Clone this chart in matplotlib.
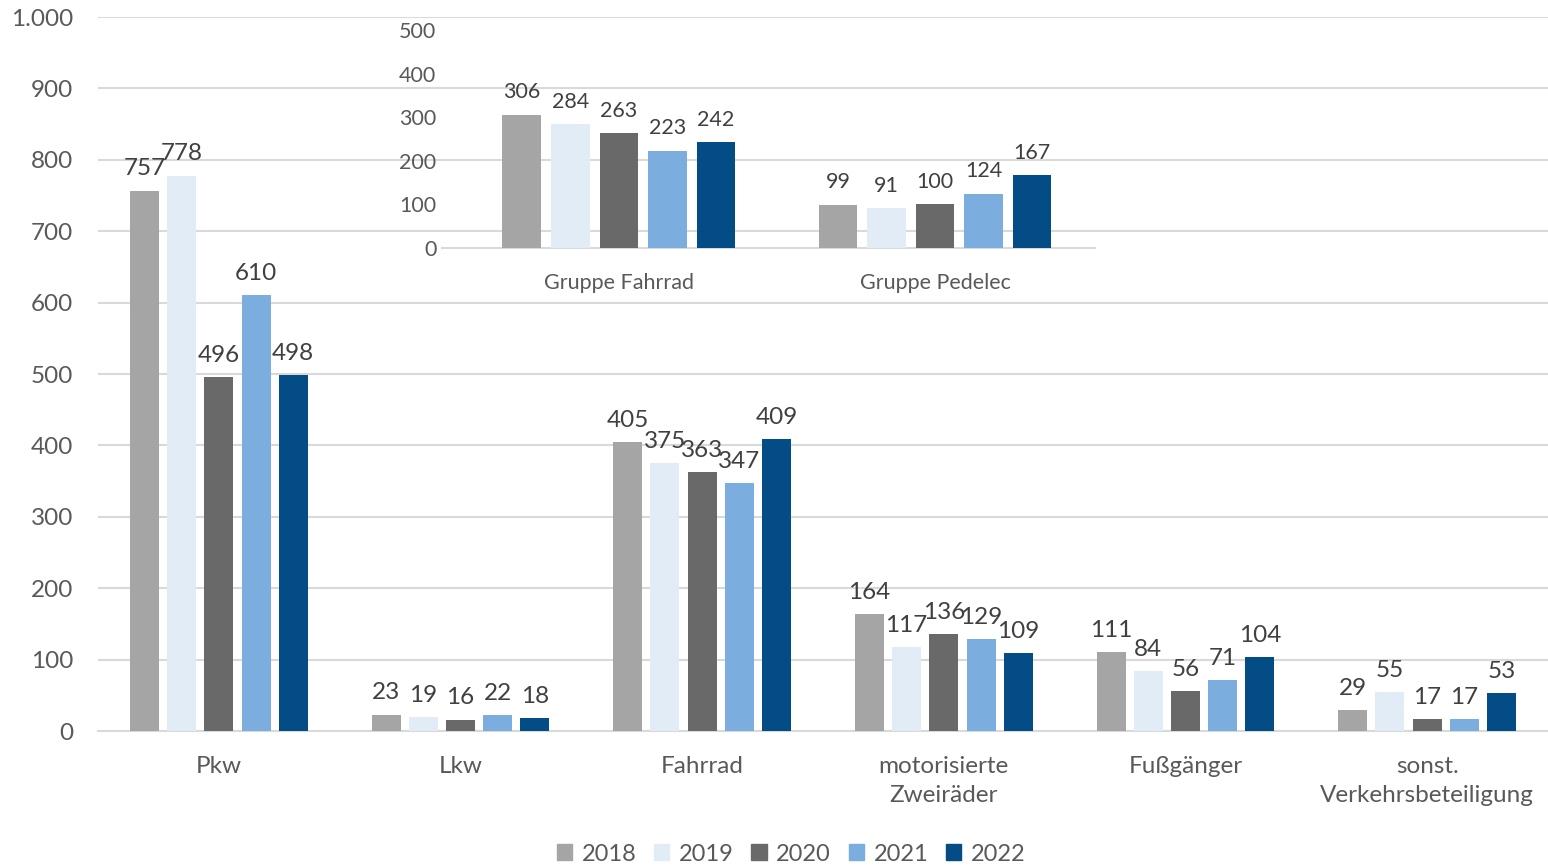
import numpy as np
import matplotlib.pyplot as plt
from matplotlib.ticker import FuncFormatter
from matplotlib.patches import Patch

plt.rcParams['font.family'] = ['Lato', 'DejaVu Sans']

years = ['2018', '2019', '2020', '2021', '2022']
colors = ['#A5A5A5', '#E2ECF7', '#696969', '#7BADDE', '#034C86']

categories = ['Pkw', 'Lkw', 'Fahrrad', 'motorisierte\nZweiräder', 'Fußgänger',
              'sonst.\nVerkehrsbeteiligung']
values = [
    [757, 23, 405, 164, 111, 29],   # 2018
    [778, 19, 375, 117, 84, 55],    # 2019
    [496, 16, 363, 136, 56, 17],    # 2020
    [610, 22, 347, 129, 71, 17],    # 2021
    [498, 18, 409, 109, 104, 53],   # 2022
]

inset_categories = ['Gruppe Fahrrad', 'Gruppe Pedelec']
inset_values = [
    [306, 99],
    [284, 91],
    [263, 100],
    [223, 124],
    [242, 167],
]

TXT = '#404040'
TICK = '#595959'
GRID = '#D9D9D9'

fig = plt.figure(figsize=(15.48, 8.65), dpi=100)
ax = fig.add_axes([0.0633, 0.1549, 0.9367, 0.8254])

x = np.arange(len(categories))
step, width = 0.154, 0.12
for i, (yr, vals) in enumerate(zip(years, values)):
    pos = x + (i - 2) * step
    bars = ax.bar(pos, vals, width, color=colors[i], zorder=3)
    ax.bar_label(bars, labels=[str(v) for v in vals], padding=8,
                 fontsize=17.5, color=TXT)

ax.set_xlim(-0.5, len(categories) - 0.5)
ax.set_ylim(0, 1000)
ax.set_yticks(np.arange(0, 1001, 100))
ax.yaxis.set_major_formatter(FuncFormatter(lambda v, p: f'{int(v):,}'.replace(',', '.')))
ax.grid(axis='y', color=GRID, linewidth=1.5, zorder=0)
for s in ['top', 'right', 'left']:
    ax.spines[s].set_visible(False)
ax.spines['bottom'].set_color(GRID)
ax.spines['bottom'].set_linewidth(1.5)
ax.set_xticks(x)
ax.set_xticklabels(categories, linespacing=1.45)
ax.tick_params(axis='both', length=0, labelsize=17.5, labelcolor=TICK)
ax.tick_params(axis='x', pad=18)
ax.tick_params(axis='y', pad=18)

# inset
ins = fig.add_axes([0.2855, 0.7133, 0.4218, 0.252])
ins.patch.set_alpha(0)
xi = np.arange(len(inset_categories))
istep, iwidth = 0.1535, 0.123
for i, vals in enumerate(inset_values):
    pos = xi + (i - 2) * istep
    bars = ins.bar(pos, vals, iwidth, color=colors[i], zorder=3)
    ins.bar_label(bars, labels=[str(v) for v in vals], padding=9,
                  fontsize=15.5, color=TXT)
ins.set_xlim(-0.56, 1.506)
ins.set_ylim(0, 500)
ins.set_yticks(np.arange(0, 501, 100))
for s in ['top', 'right', 'left']:
    ins.spines[s].set_visible(False)
ins.spines['bottom'].set_color(GRID)
ins.spines['bottom'].set_linewidth(1.5)
ins.set_xticks(xi)
ins.set_xticklabels(inset_categories)
ins.tick_params(axis='both', length=0, labelsize=15.5, labelcolor=TICK)
ins.tick_params(axis='x', pad=18)
ins.tick_params(axis='y', pad=4)

handles = [Patch(color=c, label=y) for c, y in zip(colors, years)]
fig.legend(handles=handles, loc='lower center', bbox_to_anchor=(0.511, -0.024),
           ncol=5, frameon=False, fontsize=17, handlelength=0.65, handleheight=0.65,
           handletextpad=0.4, columnspacing=0.75, labelcolor=TICK)

fig.savefig('out.png', dpi=100)
